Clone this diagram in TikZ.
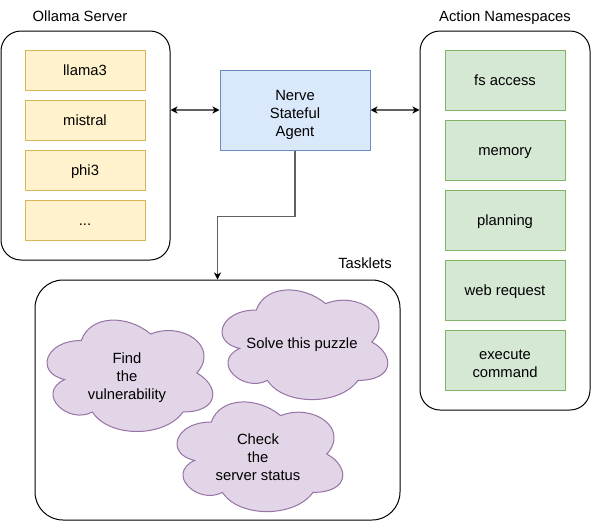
\documentclass[tikz,border=0pt]{standalone}
\usepackage{fontspec}
\setmainfont{Liberation Sans}
\usetikzlibrary{arrows.meta}
\definecolor{yfill}{HTML}{FFF2CC}\definecolor{ydraw}{HTML}{D6B656}
\definecolor{bfill}{HTML}{DAE8FC}\definecolor{bdraw}{HTML}{6C8EBF}
\definecolor{gfill}{HTML}{D5E8D4}\definecolor{gdraw}{HTML}{82B366}
\definecolor{pfill}{HTML}{E1D5E7}\definecolor{pdraw}{HTML}{9673A6}
\newcommand\lstrut{\rule[-1.8pt]{0pt}{12.2pt}}
\newcommand\fstrut{\rule[-1.8pt]{0pt}{16.7pt}}
\newcommand\drawcloud[4]{%
\begin{scope}[shift={(#1,#2)}, x={(#3*0.75pt,0)}, y={(0,-#4*0.75pt)}]
\draw[cloudsty] (0.25,0.25) .. controls (0.05,0.25) and (0,0.5) .. (0.16,0.55)
 .. controls (0,0.66) and (0.18,0.9) .. (0.31,0.8)
 .. controls (0.4,1) and (0.7,1) .. (0.8,0.8)
 .. controls (1,0.8) and (1,0.6) .. (0.875,0.5)
 .. controls (1,0.3) and (0.8,0.1) .. (0.625,0.2)
 .. controls (0.5,0.05) and (0.3,0.05) .. (0.25,0.25) -- cycle;
\end{scope}}
\tikzset{
 every node/.style={font=\fontsize{11.1}{13.5}\selectfont, inner sep=0pt, align=center,
   execute at begin node=\lstrut},
 container/.style={draw=black, line width=0.75pt, rounded corners=15pt, rectangle},
 ybox/.style={draw=ydraw, fill=yfill, line width=0.75pt, minimum width=90pt, minimum height=30pt},
 gbox/.style={draw=gdraw, fill=gfill, line width=0.75pt, minimum width=90pt, minimum height=45pt},
 bbox/.style={draw=bdraw, fill=bfill, line width=0.75pt, minimum width=112.5pt, minimum height=60pt},
 cloudsty/.style={draw=pdraw, fill=pfill, line width=0.75pt},
 conn/.style={draw=black!62, line width=1.05pt},
 tip/.tip={Stealth[color=black, length=5.25pt, width=5.25pt, inset=1.5pt]},
}
\begin{document}
\begin{tikzpicture}[x=0.75pt, y=-0.75pt]
\useasboundingbox (0,0) rectangle (591,521);
% containers
\node[container, minimum width=126.75pt, minimum height=171.75pt, execute at begin node={}] (oll) at (85.5,145.5) {};
\node[container, minimum width=127.5pt, minimum height=284.25pt, execute at begin node={}] (act) at (505,220.5) {};
\node[container, rounded corners=21pt, minimum width=273.75pt, minimum height=180pt, execute at begin node={}] (tk) at (217.5,400) {};
% titles
\node (tolla) at (80,16) {Ollama Server};
\node (tact) at (505,16) {Action Namespaces};
\node (ttk) at (365,263) {Tasklets};
% models
\node[ybox] (m1) at (85,70) {llama3};
\node[ybox] (m2) at (85,120) {mistral};
\node[ybox] (m3) at (85,170) {phi3};
\node[ybox] (m4) at (85,220) {...};
% namespaces
\node[gbox] (n1) at (505,80) {fs access};
\node[gbox] (n2) at (505,150) {memory};
\node[gbox] (n3) at (505,220) {planning};
\node[gbox] (n4) at (505,290) {web request};
\node[gbox] (n5) at (505,360) {\fstrut execute\\\lstrut command};
% agent
\node[bbox] (ag) at (295,110) {\fstrut Nerve\\\lstrut Stateful\\\lstrut Agent};
% clouds
\drawcloud{35}{308}{185}{130}
\drawcloud{210}{278}{185}{128}
\drawcloud{165}{390}{185}{128}
\node (c1) at (127,373) {\fstrut Find\\\lstrut the\\\lstrut vulnerability};
\node (c2) at (302,343) {Solve this puzzle};
\node (c3) at (258,454) {\fstrut Check\\\lstrut the\\\lstrut server status};
% connectors
\draw[conn, tip-tip] (ag.west -| oll.east) -- (ag.west);
\draw[conn, tip-tip] (ag.east) -- (ag.east -| act.west);
\draw[conn, -tip] (ag.south) -- ++(0,66) -| (tk.north);
\end{tikzpicture}
\end{document}
